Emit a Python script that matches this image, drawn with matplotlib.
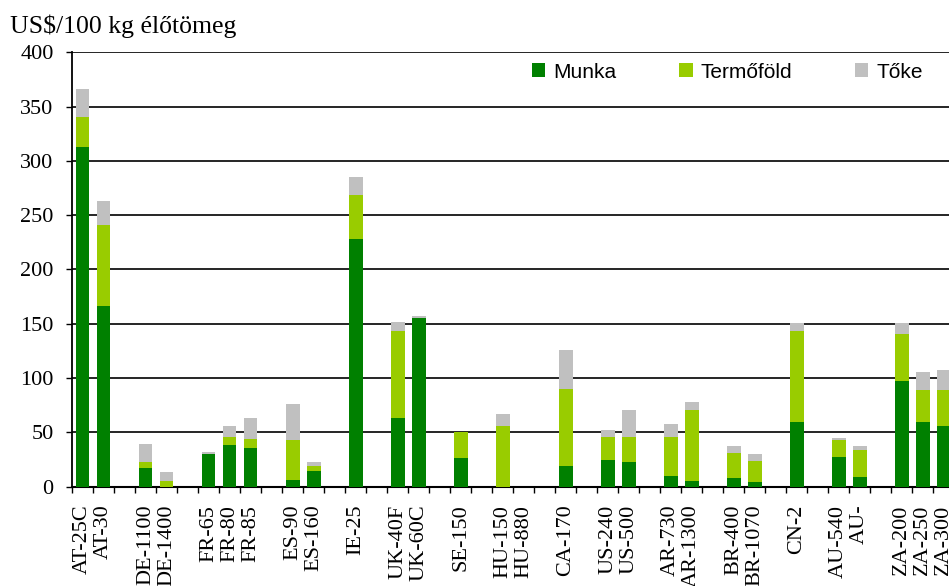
import numpy as np
import matplotlib
matplotlib.use("Agg")
import matplotlib.pyplot as plt
from matplotlib.ticker import MultipleLocator

# categories by country group (a blank slot sits between groups)
groups = [
    ["AT-25C", "AT-30"],
    ["DE-1100", "DE-1400"],
    ["FR-65", "FR-80", "FR-85"],
    ["ES-90", "ES-160"],
    ["IE-25"],
    ["UK-40F", "UK-60C"],
    ["SE-150"],
    ["HU-150", "HU-880"],
    ["CA-170"],
    ["US-240", "US-500"],
    ["AR-730", "AR-1300"],
    ["BR-400", "BR-1070"],
    ["CN-2"],
    ["AU-540", "AU-"],
    ["ZA-200", "ZA-250", "ZA-300"],
]

munka = [313, 166, 17, 0, 30, 38.5, 35.5, 6.5, 14.5, 228, 63, 155, 26.5, 0, 0,
         19, 24.5, 22.5, 10, 5, 8, 4, 59.5, 27, 9, 97.5, 59.5, 56]
termofold = [27, 75, 6, 5, 0, 7.5, 8.5, 36.5, 4.5, 40.5, 80, 0, 24, 56, 0,
             71, 21, 23, 36, 65.5, 23, 19.5, 84, 16, 25, 43.5, 29.5, 33]
toke = [26, 22, 16, 8.5, 2, 10, 19.5, 33, 4, 16.5, 8.5, 2, 0, 11, 0,
        36, 6.5, 25, 12, 7.5, 6.5, 6.5, 7, 2, 3.5, 9.5, 16.5, 18.5]

series_names = ["Munka", "Termőföld", "Tőke"]
colors = ["#008000", "#99CC00", "#C0C0C0"]

# slot positions
labels, pos = [], []
slot = 0
for g in groups:
    for name in g:
        labels.append(name)
        pos.append(slot)
        slot += 1
    slot += 1
nslots = slot - 1
pos = np.array(pos)

serif = ["Liberation Serif", "DejaVu Serif"]
sans = ["Liberation Sans", "DejaVu Sans"]

fig = plt.figure(figsize=(9.49, 5.86), dpi=100)
ax = fig.add_axes([0.0759, 0.1695, 0.9296, 0.7413])

m = np.array(munka)
t = np.array(termofold)
k = np.array(toke)
w = 0.66
ax.bar(pos, m, w, color=colors[0], label=series_names[0], zorder=3)
ax.bar(pos, t, w, bottom=m, color=colors[1], label=series_names[1], zorder=3)
ax.bar(pos, k, w, bottom=m + t, color=colors[2], label=series_names[2], zorder=3)

ax.set_xlim(-0.5, nslots - 0.5)
ax.set_ylim(0, 400)
ax.yaxis.set_major_locator(MultipleLocator(50))
ax.grid(axis="y", color="black", linewidth=1.2, zorder=0)

ax.set_xticks(pos)
ax.set_xticklabels(labels, rotation=90, family=serif, fontsize=16)
ax.set_xticks(np.arange(-0.5, nslots, 1.0), minor=True)
ax.tick_params(axis="x", which="major", length=0, pad=13)
ax.tick_params(axis="x", which="minor", length=4, width=1, direction="out")
ax.tick_params(axis="y", length=4.3, width=1, pad=9)
for lab in ax.get_yticklabels():
    lab.set_family(serif)
    lab.set_fontsize(16)

for s in ["top", "right"]:
    ax.spines[s].set_visible(False)
ax.spines["left"].set_linewidth(1.3)
ax.spines["bottom"].set_linewidth(1.5)

fig.text(0.0105, 0.9437, "US$/100 kg élőtömeg", family=serif, fontsize=18.5,
         va="baseline", ha="left")

ax.legend(loc="center left", bbox_to_anchor=(0.5606, 0.877),
          bbox_transform=fig.transFigure, ncol=3, frameon=False,
          prop={"family": sans, "size": 15}, borderpad=0, borderaxespad=0,
          handlelength=0.64, handleheight=0.64, handletextpad=0.4,
          columnspacing=3.0)

fig.savefig("out.png", dpi=100)
